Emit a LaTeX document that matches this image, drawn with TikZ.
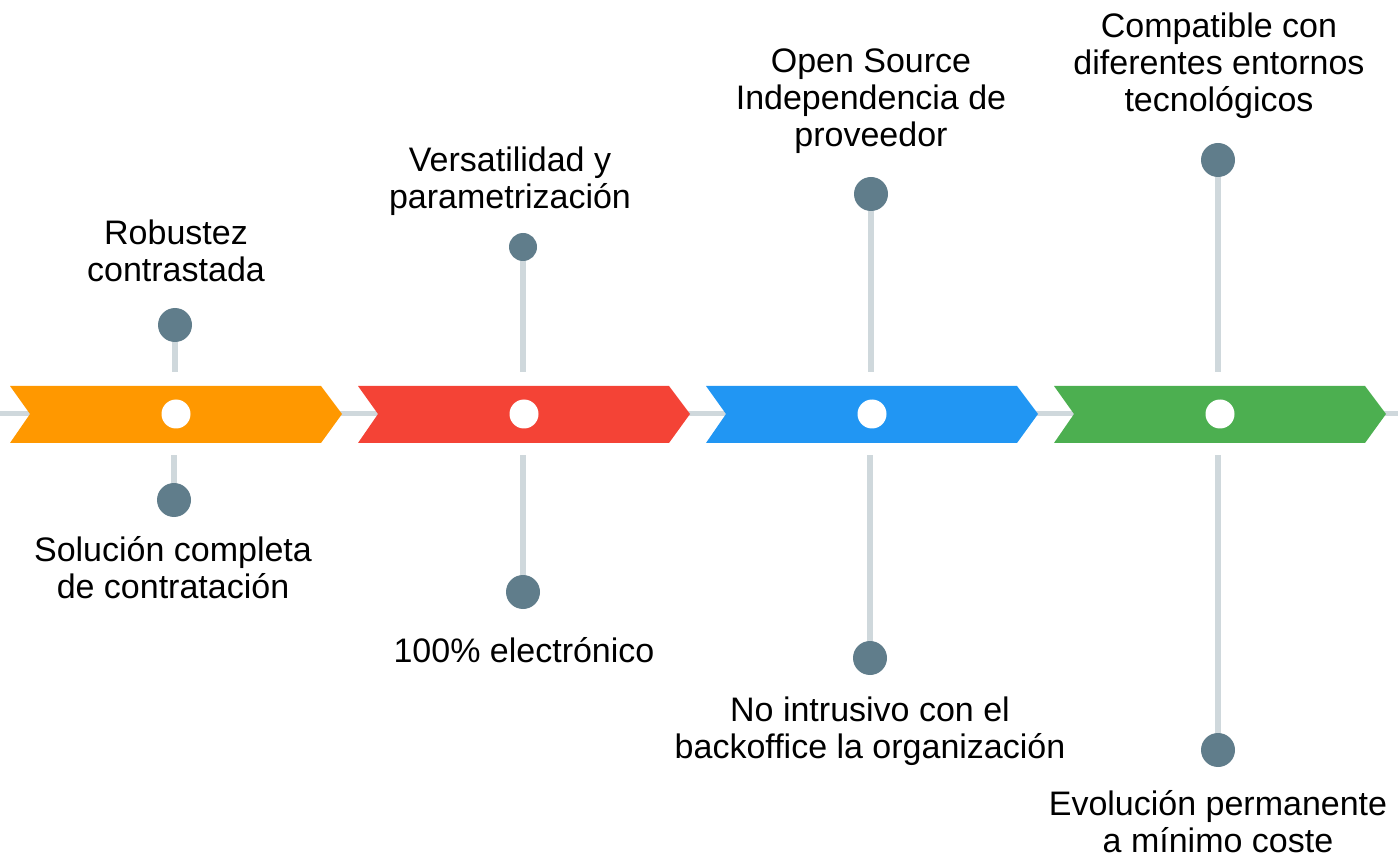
\documentclass[tikz,border=0pt]{standalone}
\usepackage{fontspec}
\setmainfont{Liberation Sans}
\usetikzlibrary{positioning,backgrounds}

\definecolor{orangeA}{HTML}{FF9800}
\definecolor{redA}{HTML}{F44336}
\definecolor{blueA}{HTML}{2196F3}
\definecolor{greenA}{HTML}{4CAF50}
\definecolor{dotgray}{HTML}{607D8B}
\definecolor{stemgray}{HTML}{CFD8DC}

\tikzset{
  hub/.style={circle, fill=white, minimum size=29pt, inner sep=0pt},
  dot/.style={circle, fill=dotgray, minimum size=34pt, inner sep=0pt},
  smalldot/.style={dot, minimum size=28pt},
  stem/.style={draw=stemgray, line width=6pt},
  label/.style={align=center, inner sep=0pt, anchor=base,
    font=\fontsize{34}{37}\selectfont}
}

\begin{document}
\begin{tikzpicture}[x=1pt, y=-1pt]
    \useasboundingbox (0,0) rectangle (1398,858);

    % chevrons
    \foreach \x/\col/\name in {10/orangeA/a, 358/redA/b, 706/blueA/c, 1054/greenA/d}{
        \fill[\col] (\x,386) -- (\x+311,386) -- (\x+332,414) -- (\x+311,443)
            -- (\x,443) -- (\x+20,414) -- cycle;
        \node[hub] (\name) at (\x+166,414) {};
    }

    % dots
    \node[dot] (a1) at (175,325) {};
    \node[dot] (a2) at (174,500) {};
    \node[smalldot] (b1) at (523,247) {};
    \node[dot] (b2) at (523,592) {};
    \node[dot] (c1) at (871,194) {};
    \node[dot] (c2) at (870,658) {};
    \node[dot] (d1) at (1218,160) {};
    \node[dot] (d2) at (1218,750) {};

    % axis and stems
    \coordinate (axl) at (0,414);
    \coordinate (axr) at (1398,414);
    \begin{pgfonlayer}{background}
        \draw[draw=stemgray, line width=5pt] (axl) -- (axr);
        \foreach \n in {a,b,c,d}{
            \draw[stem] (\n1.center) -- (\n1 |- 0,372);
            \draw[stem] (\n2.center) -- (\n2 |- 0,455);
        }
    \end{pgfonlayer}

    % labels
    \node[label] (ta1) at (176,282) {Robustez\\contrastada};
    \node[label] (ta2) at (173,598) {Solución completa\\de contratación};
    \node[label] (tb1) at (510,209) {Versatilidad y\\parametrización};
    \node[label] (tb2) at (524,662) {100\% electrónico};
    \node[label] (tc1) at (871,147) {Open Source\\Independencia de\\proveedor};
    \node[label] (tc2) at (870,758) {No intrusivo con el\\backoffice la organización};
    \node[label] (td1) at (1219,112) {Compatible con\\diferentes entornos\\tecnológicos};
    \node[label] (td2) at (1218,852) {Evolución permanente\\a mínimo coste};
\end{tikzpicture}
\end{document}
